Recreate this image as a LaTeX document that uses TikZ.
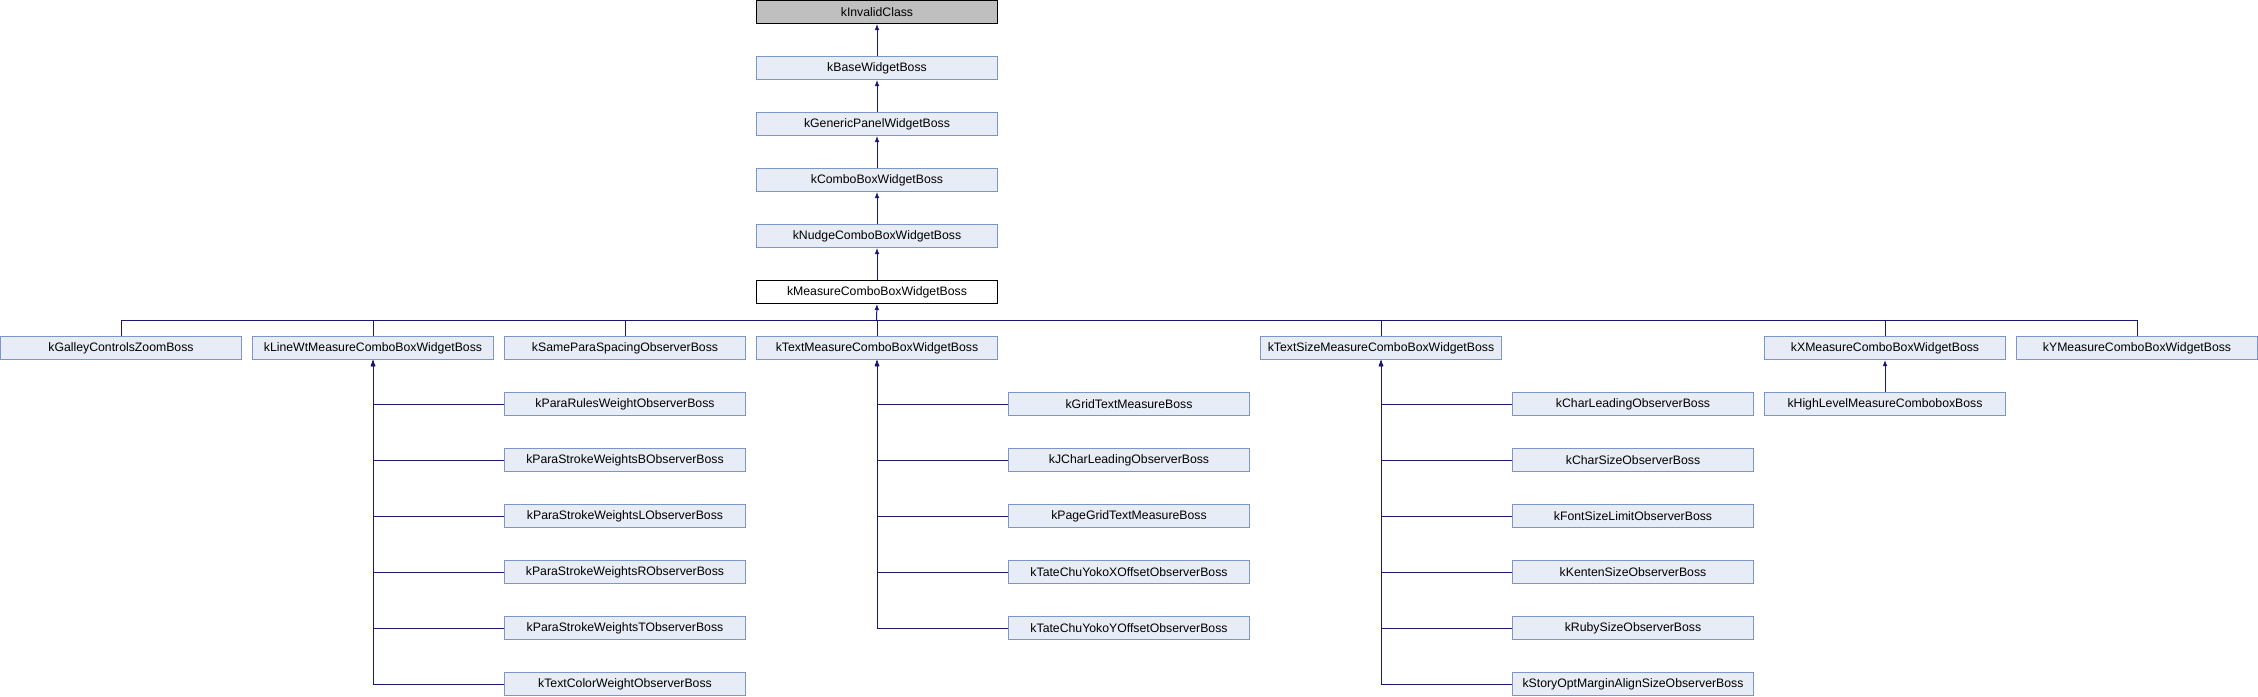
\documentclass[tikz,border=0pt]{standalone}
\usepackage{fontspec}
\setmainfont{Liberation Sans}
\usetikzlibrary{arrows.meta}
\definecolor{boxfill}{RGB}{232,236,246}
\definecolor{boxline}{RGB}{124,149,202}
\definecolor{edgecol}{RGB}{25,25,112}
\definecolor{grayfill}{RGB}{191,191,191}
\begin{document}
\begin{tikzpicture}[x=0.75pt,y=-0.75pt,
  cls/.style={draw=boxline,fill=boxfill,line width=0.75pt,anchor=north west,
    minimum width=180.75pt,minimum height=17.25pt,inner sep=0pt,
    font=\fontsize{9.2pt}{11pt}\selectfont},
  rootcls/.style={cls,draw=black,fill=grayfill},
  curcls/.style={cls,draw=black,fill=white},
  edge/.style={draw=edgecol,line width=0.75pt},
  arr/.style={edge,-{Latex[length=4.5pt,width=3.5pt]}}]
\useasboundingbox (0,0) rectangle (2258,696);
% top chain (column 3)
\node[rootcls] (inv) at (756,0) {kInvalidClass};
\node[cls] (base) at (756,56) {kBaseWidgetBoss};
\node[cls] (gen) at (756,112) {kGenericPanelWidgetBoss};
\node[cls] (combo) at (756,168) {kComboBoxWidgetBoss};
\node[cls] (nudge) at (756,224) {kNudgeComboBoxWidgetBoss};
\node[curcls] (meas) at (756,280) {kMeasureComboBoxWidgetBoss};
% row 6
\node[cls] (galley) at (0,336) {kGalleyControlsZoomBoss};
\node[cls] (linewt) at (252,336) {kLineWtMeasureComboBoxWidgetBoss};
\node[cls] (samepara) at (504,336) {kSameParaSpacingObserverBoss};
\node[cls] (textm) at (756,336) {kTextMeasureComboBoxWidgetBoss};
\node[cls] (textsize) at (1260,336) {kTextSizeMeasureComboBoxWidgetBoss};
\node[cls] (xm) at (1764,336) {kXMeasureComboBoxWidgetBoss};
\node[cls] (ym) at (2016,336) {kYMeasureComboBoxWidgetBoss};
% children of kLineWt (column 2)
\node[cls] (pr) at (504,392) {kParaRulesWeightObserverBoss};
\node[cls] (psb) at (504,448) {kParaStrokeWeightsBObserverBoss};
\node[cls] (psl) at (504,504) {kParaStrokeWeightsLObserverBoss};
\node[cls] (psr) at (504,560) {kParaStrokeWeightsRObserverBoss};
\node[cls] (pst) at (504,616) {kParaStrokeWeightsTObserverBoss};
\node[cls] (tcw) at (504,672) {kTextColorWeightObserverBoss};
% children of kTextMeasure (column 4)
\node[cls] (grid) at (1008,392) {kGridTextMeasureBoss};
\node[cls] (jchar) at (1008,448) {kJCharLeadingObserverBoss};
\node[cls] (pgrid) at (1008,504) {kPageGridTextMeasureBoss};
\node[cls] (tcx) at (1008,560) {kTateChuYokoXOffsetObserverBoss};
\node[cls] (tcy) at (1008,616) {kTateChuYokoYOffsetObserverBoss};
% children of kTextSize (column 6)
\node[cls] (charlead) at (1512,392) {kCharLeadingObserverBoss};
\node[cls] (charsize) at (1512,448) {kCharSizeObserverBoss};
\node[cls] (fontsize) at (1512,504) {kFontSizeLimitObserverBoss};
\node[cls] (kenten) at (1512,560) {kKentenSizeObserverBoss};
\node[cls] (ruby) at (1512,616) {kRubySizeObserverBoss};
\node[cls] (story) at (1512,672) {kStoryOptMarginAlignSizeObserverBoss};
% child of kXMeasure
\node[cls] (high) at (1764,392) {kHighLevelMeasureComboboxBoss};
% chain edges
\draw[arr] (base.north) -- (inv.south);
\draw[arr] (gen.north) -- (base.south);
\draw[arr] (combo.north) -- (gen.south);
\draw[arr] (nudge.north) -- (combo.south);
\draw[arr] (meas.north) -- (nudge.south);
% bus
\coordinate (bus) at (876.5,320);
\foreach \c in {galley,linewt,samepara,textm,textsize,xm,ym}
  \draw[edge] (\c.north) |- (bus);
\draw[arr] (bus) -- (meas.south);
% sub trees
\foreach \c in {pr,psb,psl,psr,pst,tcw}
  \draw[arr] (\c.west) -| (linewt.south);
\foreach \c in {grid,jchar,pgrid,tcx,tcy}
  \draw[arr] (\c.west) -| (textm.south);
\foreach \c in {charlead,charsize,fontsize,kenten,ruby,story}
  \draw[arr] (\c.west) -| (textsize.south);
\draw[arr] (high.north) -- (xm.south);
\end{tikzpicture}
\end{document}
